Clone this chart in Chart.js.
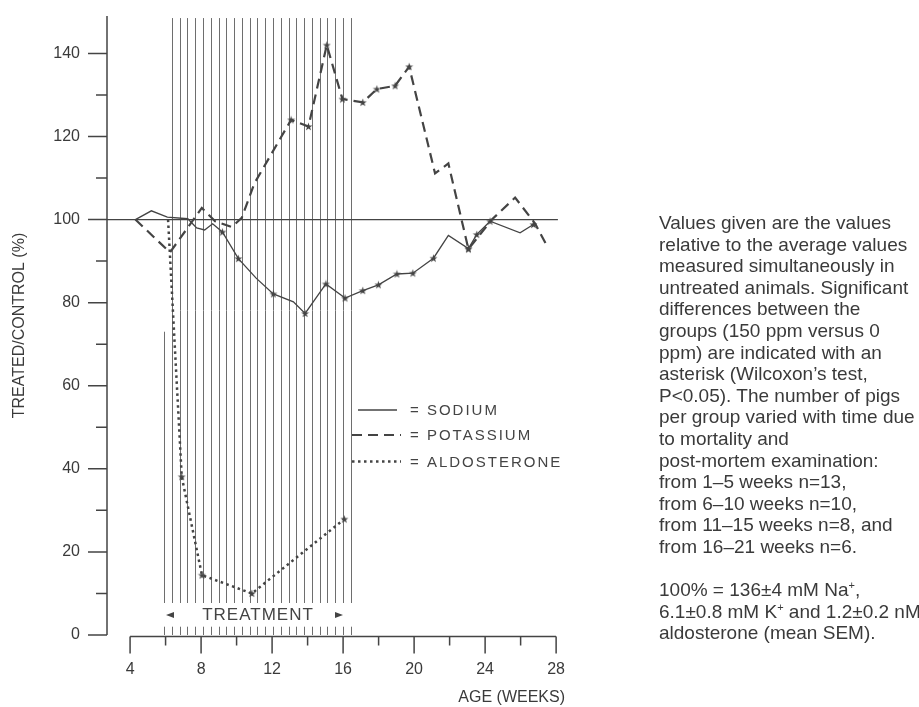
<!DOCTYPE html>
<html>
<head>
<meta charset="utf-8">
<script src="https://cdn.jsdelivr.net/npm/chart.js@4"></script>
<style>
  html, body { margin: 0; padding: 0; background: #fff; }
  #wrap { position: relative; width: 919px; height: 707px; }
  #note {
    position: absolute; left: 659px; top: 212px;
    font: 19px/21.6px "Liberation Sans", Arial, sans-serif;
    color: #3a3a3a; white-space: nowrap;
  }
  #note sup { font-size: 11px; line-height: 0; vertical-align: 7px; }
</style>
</head>
<body>
<div id="wrap">
  <canvas id="chart" width="919" height="707"></canvas>
  <div id="note">
    Values given are the values<br>
    relative to the average values<br>
    measured simultaneously in<br>
    untreated animals. Significant<br>
    differences between the<br>
    groups (150 ppm versus 0<br>
    ppm) are indicated with an<br>
    asterisk (Wilcoxon’s test,<br>
    P&lt;0.05). The number of pigs<br>
    per group varied with time due<br>
    to mortality and<br>
    post-mortem examination:<br>
    from 1–5 weeks n=13,<br>
    from 6–10 weeks n=10,<br>
    from 11–15 weeks n=8, and<br>
    from 16–21 weeks n=6.<br>
    <br>
    100% = 136±4 mM Na<sup>+</sup>,<br>
    6.1±0.8 mM K<sup>+</sup> and 1.2±0.2 nM<br>
    aldosterone (mean SEM).
  </div>
</div>
<script>
// age in weeks, value as % of control; sig = marked with an asterisk
const sodiumWeeks = [4.3, 5.2, 6.1, 7.25, 7.75, 8.2, 8.65, 9.2, 10.1, 11.1, 12.07, 13.2, 13.86,
                     15.03, 16.11, 17.11, 17.99, 19.03, 19.93, 21.09, 21.93, 23.06, 23.53, 24.28, 25.97, 26.72];
const sodium      = [100, 102.1, 100.6, 100.2, 98, 97.5, 99, 97, 90.6, 85.9, 82.1, 80.2, 77.4,
                     84.5, 81.1, 82.9, 84.3, 86.9, 87.1, 90.7, 96.2, 93, 96.4, 99.6, 96.8, 98.8];
const sodiumSig   = [0, 0, 0, 0, 0, 0, 0, 1, 1, 0, 1, 0, 1,
                     1, 1, 1, 1, 1, 1, 1, 0, 1, 1, 1, 0, 1];

const potassiumWeeks = [4.3, 6.25, 8.04, 8.79, 9.73, 10.29, 11.0, 13.07, 14.05, 15.08, 15.96, 17.11,
                        17.9, 18.93, 19.72, 21.18, 21.93, 23.06, 24.38, 25.69, 26.82, 27.48];
const potassium      = [100, 92.1, 102.8, 99.6, 98.2, 100.4, 108.7, 124, 122.4, 142, 129, 128.2,
                        131.4, 132.2, 136.8, 111.1, 113.5, 92.9, 100, 105.3, 99, 93.7];
const potassiumSig   = [0, 0, 0, 0, 0, 0, 0, 1, 1, 1, 1, 1,
                        1, 1, 1, 0, 0, 1, 0, 0, 0, 0];

const aldoWeeks = [6.14, 6.91, 8.05, 10.86, 16.07];
const aldo      = [100, 38.1, 14.4, 10.0, 27.9];
const aldoSig   = [0, 1, 1, 1, 1];

const xTickLabels = [4, 8, 12, 16, 20, 24, 28];
const yTickLabels = [0, 20, 40, 60, 80, 100, 120, 140];

// treatment period (hatched), weeks
const hatchStart = 5.92;
const hatchEnd = 16.43;
const hatchCount = 25;
const controlLevel = 100;

const ink = '#444';
const font = '"Liberation Sans", Arial, sans-serif';

// small five-point star used for significant points
const star = document.createElement('canvas');
star.width = 9; star.height = 9;
const sctx = star.getContext('2d');
sctx.fillStyle = ink;
sctx.beginPath();
for (let i = 0; i < 10; i++) {
  const r = i % 2 ? 1.7 : 4.2;
  const a = -Math.PI / 2 + i * Math.PI / 5;
  const px = 4.5 + r * Math.cos(a), py = 4.8 + r * Math.sin(a);
  if (i) sctx.lineTo(px, py); else sctx.moveTo(px, py);
}
sctx.closePath();
sctx.fill();

const toPoints = (weeks, vals) => weeks.map((w, i) => ({ x: w, y: vals[i] }));

const frame = {
  id: 'frame',
  beforeDatasetsDraw(chart) {
    const { ctx, chartArea, scales: { x, y } } = chart;
    ctx.save();

    // hatching
    ctx.strokeStyle = '#6e6e6e';
    ctx.lineWidth = 1;
    const step = (hatchEnd - hatchStart) / (hatchCount - 1);
    for (let i = 0; i < hatchCount; i++) {
      const px = Math.round(x.getPixelForValue(hatchStart + i * step)) + 0.5;
      ctx.beginPath();
      ctx.moveTo(px, y.getPixelForValue(i === 0 ? 73 : 148.5));
      ctx.lineTo(px, y.getPixelForValue(7.7));
      ctx.moveTo(px, y.getPixelForValue(2));
      ctx.lineTo(px, y.getPixelForValue(0));
      ctx.stroke();
    }

    ctx.strokeStyle = ink;
    ctx.lineWidth = 1.5;

    // y axis
    const x0 = chartArea.left;
    ctx.beginPath();
    ctx.moveTo(x0, chartArea.bottom);
    ctx.lineTo(x0, chartArea.top);
    for (let v = 0; v <= 140; v += 10) {
      const py = y.getPixelForValue(v);
      const len = v % 20 === 0 ? 19 : 11;
      ctx.moveTo(x0 - len, py);
      ctx.lineTo(x0, py);
    }
    ctx.stroke();

    // x axis
    const ya = y.getPixelForValue(0) + 1.5;
    ctx.beginPath();
    ctx.moveTo(x.getPixelForValue(4), ya);
    ctx.lineTo(x.getPixelForValue(28), ya);
    for (let w = 4; w <= 28; w += 2) {
      const px = x.getPixelForValue(w);
      ctx.moveTo(px, ya);
      ctx.lineTo(px, ya + (w % 4 === 0 ? 17 : 9));
    }
    ctx.stroke();

    // control level
    ctx.lineWidth = 1.2;
    ctx.beginPath();
    ctx.moveTo(x0, y.getPixelForValue(controlLevel));
    ctx.lineTo(x.getPixelForValue(28.1), y.getPixelForValue(controlLevel));
    ctx.stroke();
    ctx.restore();
  },
  afterDraw(chart) {
    const { ctx } = chart;
    ctx.save();
    ctx.fillStyle = ink;
    ctx.strokeStyle = ink;
    ctx.textBaseline = 'middle';

    // treatment label
    ctx.font = '17px ' + font;
    ctx.letterSpacing = '1px';
    ctx.textAlign = 'center';
    ctx.fillText('TREATMENT', 258, 615);
    ctx.beginPath();
    ctx.moveTo(166, 615); ctx.lineTo(174, 612); ctx.lineTo(174, 618); ctx.closePath();
    ctx.moveTo(343, 615); ctx.lineTo(335, 612); ctx.lineTo(335, 618); ctx.closePath();
    ctx.fill();

    // legend
    ctx.font = '15px ' + font;
    ctx.letterSpacing = '2px';
    ctx.textAlign = 'left';
    const rows = [410, 435, 461.5];
    chart.data.datasets.forEach((ds, i) => {
      const ry = rows[i];
      ctx.setLineDash(ds.borderDash);
      ctx.lineWidth = ds.borderWidth;
      ctx.lineCap = 'butt';
      ctx.beginPath();
      ctx.moveTo(i === 0 ? 358 : 352, ry);
      ctx.lineTo(i === 0 ? 397 : 401, ry);
      ctx.stroke();
      ctx.setLineDash([]);
      ctx.fillText('= ' + ds.label, 410, ry + 1);
    });
    ctx.restore();
  }
};

// tick marks are drawn by the plugin; the invisible library ticks only space the labels
const hiddenTicks = len => ({ color: 'transparent', drawOnChartArea: false, drawTicks: true, tickLength: len });

new Chart(document.getElementById('chart'), {
  type: 'line',
  data: {
    datasets: [{
      label: 'SODIUM',
      data: toPoints(sodiumWeeks, sodium),
      borderColor: ink,
      borderWidth: 1.3,
      borderDash: [],
      pointStyle: star,
      pointRadius: c => sodiumSig[c.dataIndex] ? 3 : 0
    }, {
      label: 'POTASSIUM',
      data: toPoints(potassiumWeeks, potassium),
      borderColor: ink,
      borderWidth: 2.2,
      borderDash: [10, 6],
      pointStyle: star,
      pointRadius: c => potassiumSig[c.dataIndex] ? 3 : 0
    }, {
      label: 'ALDOSTERONE',
      data: toPoints(aldoWeeks, aldo),
      borderColor: ink,
      borderWidth: 2.5,
      borderDash: [2.5, 3.5],
      pointStyle: star,
      pointRadius: c => aldoSig[c.dataIndex] ? 3 : 0
    }]
  },
  options: {
    responsive: false,
    animation: false,
    events: [],
    layout: { padding: { left: 0, top: 16, right: 354, bottom: 0 } },
    elements: { line: { tension: 0, fill: false, borderCapStyle: 'butt' } },
    scales: {
      x: {
        type: 'linear',
        min: 2.7,
        max: 28.5,
        afterBuildTicks: s => { s.ticks = xTickLabels.map(v => ({ value: v })); },
        afterFit: s => { s.height = 72; },
        grid: hiddenTicks(25),
        border: { display: false },
        ticks: { padding: 0, color: '#3a3a3a', font: { family: font, size: 16 } },
        title: {
          display: true, text: 'AGE (WEEKS)', align: 'end',
          color: '#3a3a3a', font: { family: font, size: 16 }, padding: { top: 0, bottom: 0 }
        }
      },
      y: {
        min: 0,
        max: 149,
        afterBuildTicks: s => { s.ticks = yTickLabels.map(v => ({ value: v })); },
        afterFit: s => { s.width = 107; },
        grid: hiddenTicks(27),
        border: { display: false },
        ticks: { padding: 0, color: '#3a3a3a', font: { family: font, size: 16 } },
        title: {
          display: true, text: 'TREATED/CONTROL (%)',
          color: '#3a3a3a', font: { family: font, size: 16 }, padding: { top: 10, bottom: 0 }
        }
      }
    },
    plugins: {
      legend: { display: false },
      tooltip: { enabled: false }
    }
  },
  plugins: [frame]
});
</script>
</body>
</html>
